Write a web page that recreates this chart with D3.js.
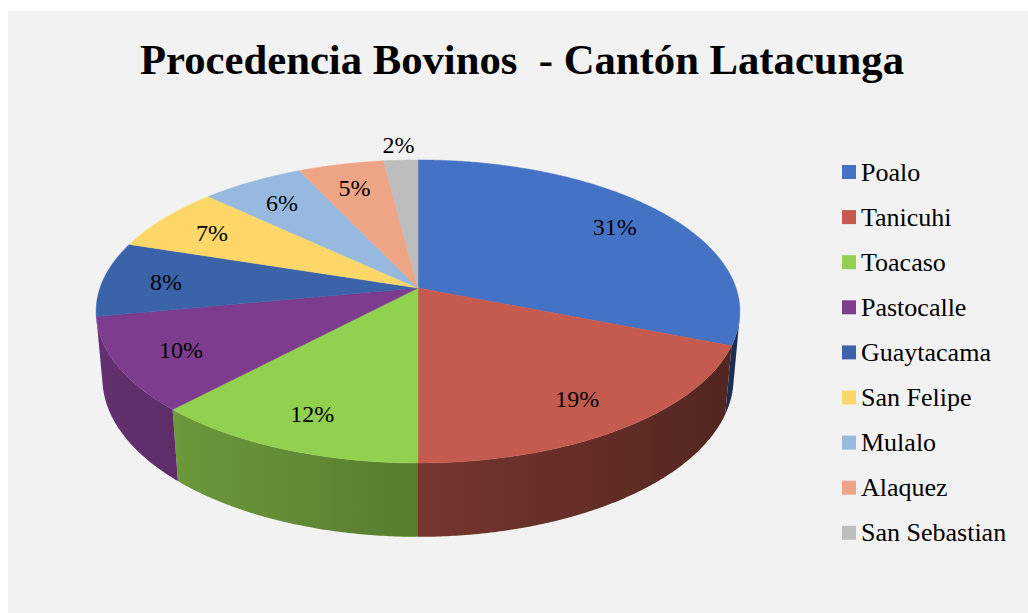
<!DOCTYPE html>
<html>
<head>
<meta charset="utf-8">
<script src="https://cdn.jsdelivr.net/npm/d3@7"></script>
<style>
  html, body { margin: 0; padding: 0; background: #ffffff; }
  svg { display: block; }
</style>
</head>
<body>
<svg id="chart" width="1028" height="613"></svg>
<script>
// Procedencia de bovinos por parroquia (porcentaje)
const categories = ["Poalo", "Tanicuhi", "Toacaso", "Pastocalle", "Guaytacama",
                    "San Felipe", "Mulalo", "Alaquez", "San Sebastian"];
const values = [31, 19, 12, 10, 8, 7, 6, 5, 2];
const palette = ["#4472C4", "#C55A4E", "#92D050", "#7E3C8E", "#3A63AA",
                 "#FDD868", "#97B9E0", "#EEA586", "#BDBDBD"];
const titleText = "Procedencia Bovinos  - Cantón Latacunga";

const serif = "'Liberation Serif', 'Times New Roman', serif";
const svg = d3.select("#chart");
const W = 1028, H = 613;
const defs = svg.append("defs");

// chart area
svg.append("rect")
  .attr("x", 8).attr("y", 11)
  .attr("width", W - 8).attr("height", H - 11)
  .attr("fill", "#F2F2F2");

svg.append("text")
  .attr("x", 522).attr("y", 74)
  .attr("text-anchor", "middle")
  .attr("font-family", serif)
  .attr("font-weight", "bold")
  .attr("font-size", 42.7)
  .attr("fill", "#000")
  .style("white-space", "pre")
  .text(titleText);

// 3D pie: a disc of unit radius seen from above with perspective
const view = {
  cx: 418, cy: 288,   // screen position of the disc centre
  S: 318,             // scale
  sinA: 0.465,        // elevation of the camera
  cosA: 0.885,
  k: 0.175,           // perspective strength
  h: 0.239            // thickness of the disc
};

function project(X, Yup, Z) {
  const yv = Yup * view.cosA + Z * view.sinA;
  const d = Z * view.cosA - Yup * view.sinA;
  const s = 1 + view.k * d;
  return { x: view.cx + view.S * X / s, y: view.cy - view.S * yv / s, d: d };
}
function rimPoint(theta, r, Yup) {
  return project(r * Math.sin(theta), Yup, r * Math.cos(theta));
}

// the part of the outer wall that faces the camera
const camZ = -view.cosA / view.k;
const wallFrom = Math.acos(1 / camZ);            // just past 90°
const wallTo = 2 * Math.PI - wallFrom;           // just before 270°

const pie = d3.pie().sort(null).value(d => d).startAngle(0).endAngle(2 * Math.PI);
const arcs = pie(values);

const line = d3.line().x(p => p.x).y(p => p.y);
const step = Math.PI / 360;
const shade = t => 0.6 - 0.2 * Math.sin(t);

const xLeft = view.cx - view.S * 1.02, xRight = view.cx + view.S * 1.02;

function sampleAngles(a0, a1) {
  const n = Math.max(2, Math.ceil((a1 - a0) / step));
  return d3.range(n + 1).map(j => a0 + (a1 - a0) * j / n);
}

// side wall
const wallG = svg.append("g");
arcs.forEach((a, i) => {
  const a0 = Math.max(a.startAngle, wallFrom), a1 = Math.min(a.endAngle, wallTo);
  if (a1 <= a0) return;
  const ts = sampleAngles(a0, a1);
  const top = ts.map(t => rimPoint(t, 1, 0));
  const bot = ts.map(t => rimPoint(t, 1, -view.h)).reverse();

  const gid = "wall" + i;
  const base = d3.rgb(palette[i]);
  const stops = sampleAngles(a0, a1).filter((t, j, arr) => j % 6 === 0 || j === arr.length - 1)
    .map(t => {
      const f = shade(t);
      return {
        off: (rimPoint(t, 1, -view.h / 2).x - xLeft) / (xRight - xLeft),
        col: d3.rgb(base.r * f, base.g * f, base.b * f).formatHex()
      };
    })
    .sort((p, q) => p.off - q.off);
  defs.append("linearGradient")
    .attr("id", gid)
    .attr("gradientUnits", "userSpaceOnUse")
    .attr("x1", xLeft).attr("x2", xRight).attr("y1", 0).attr("y2", 0)
    .selectAll("stop")
    .data(stops)
    .join("stop")
    .attr("offset", s => Math.min(1, Math.max(0, s.off)))
    .attr("stop-color", s => s.col);

  wallG.append("path")
    .attr("d", line(top.concat(bot)) + "Z")
    .attr("fill", `url(#${gid})`);
});

// top face
svg.append("g").selectAll("path")
  .data(arcs)
  .join("path")
  .attr("d", a => {
    const pts = [project(0, 0, 0)].concat(
      sampleAngles(a.startAngle, a.endAngle).map(t => rimPoint(t, 1, 0)));
    return line(pts) + "Z";
  })
  .attr("fill", (a, i) => palette[i])
  .attr("stroke", (a, i) => palette[i])
  .attr("stroke-width", 0.5)
  .attr("stroke-linejoin", "round");

// data labels
svg.append("g").selectAll("text")
  .data(arcs)
  .join("text")
  .each(function (a) {
    const mid = (a.startAngle + a.endAngle) / 2;
    const r = a.data < 3 ? 1.15 : 0.8;
    const p = rimPoint(mid, r, 0);
    d3.select(this).attr("x", p.x).attr("y", p.y);
  })
  .attr("dy", "0.4em")
  .attr("text-anchor", "middle")
  .attr("font-family", serif)
  .attr("font-size", 24)
  .attr("fill", "#000")
  .text(a => a.data + "%");

// legend
const legend = svg.append("g").attr("transform", "translate(842,172)");
const rowH = 45.1;
const rows = legend.selectAll("g")
  .data(categories)
  .join("g")
  .attr("transform", (d, i) => `translate(0,${i * rowH})`);
rows.append("rect")
  .attr("x", 0).attr("y", -7)
  .attr("width", 14).attr("height", 14)
  .attr("fill", (d, i) => palette[i]);
rows.append("text")
  .attr("x", 19).attr("y", 8.5)
  .attr("font-family", serif)
  .attr("font-size", 26)
  .attr("fill", "#000")
  .text(d => d);
</script>
</body>
</html>
